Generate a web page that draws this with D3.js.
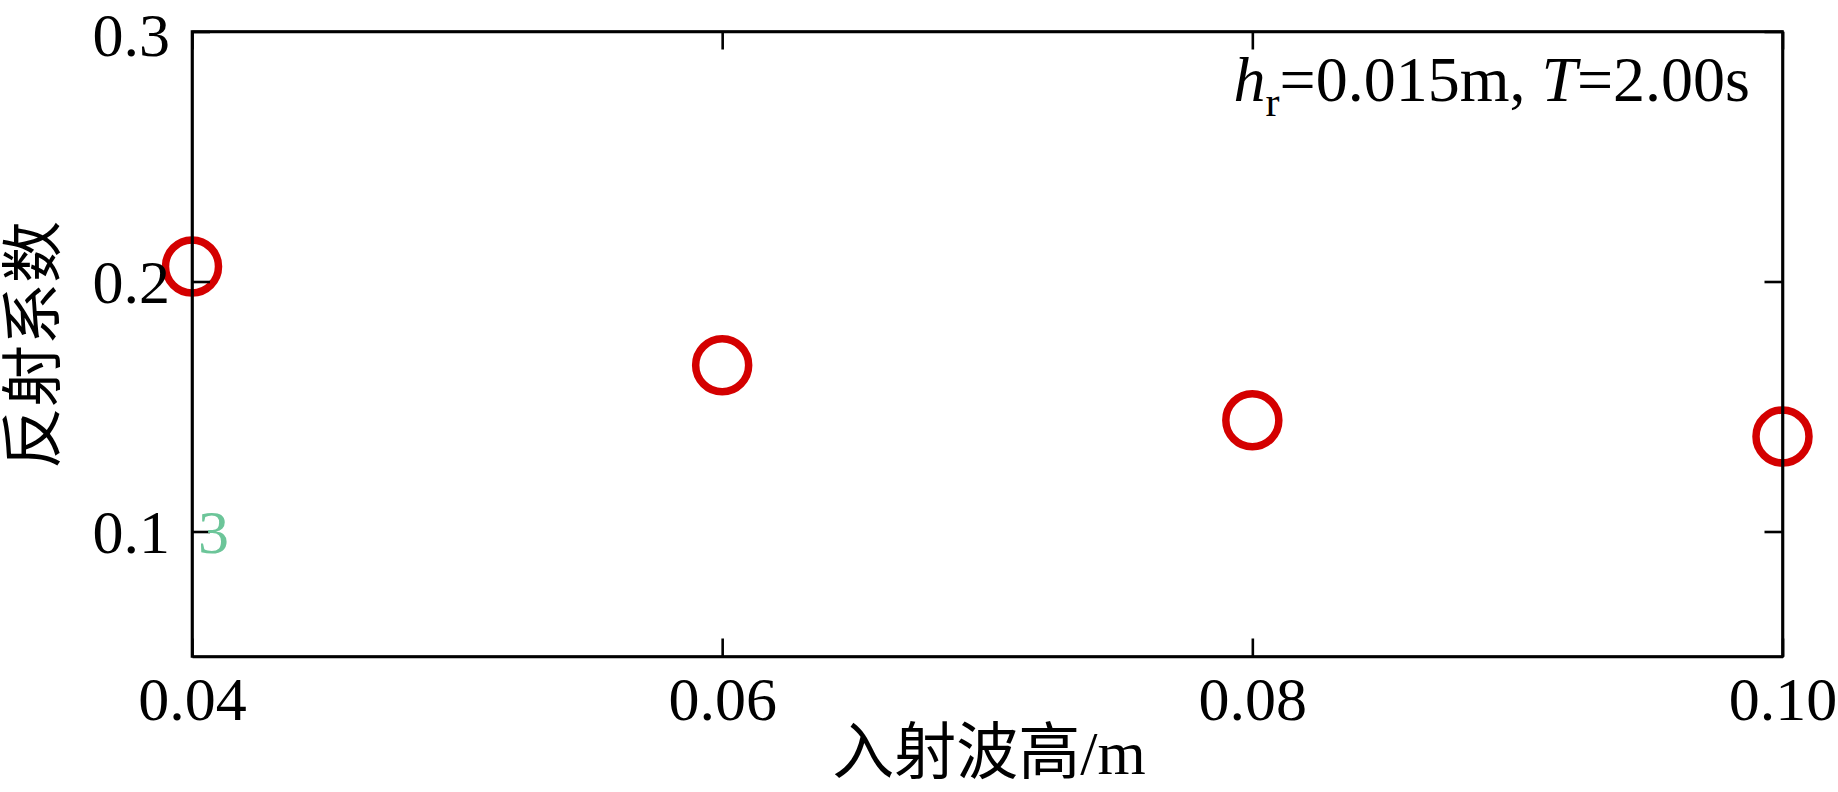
<!DOCTYPE html>
<html>
<head>
<meta charset="utf-8">
<script src="https://cdn.jsdelivr.net/npm/d3@7"></script>
<style>
  html, body { margin: 0; padding: 0; background: #fff; }
  svg { display: block; }
  text { font-family: "Liberation Serif", "Noto Sans CJK SC", serif; fill: #000; }
</style>
</head>
<body>
<svg id="chart" width="1838" height="792"></svg>
<script>
// ---- data ----
const waveHeights = [0.04, 0.06, 0.08, 0.10];          // 入射波高 (m)
const reflectionCoef = [0.206, 0.1665, 0.1445, 0.138]; // 反射系数
const xTickValues = [0.04, 0.06, 0.08, 0.10];
const xTickLabels = ["0.04", "0.06", "0.08", "0.10"];
const yTickValues = [0.1, 0.2, 0.3];
const yTickLabels = ["0.1", "0.2", "0.3"];
const xDomain = [0.04, 0.10];
const yDomain = [0.05, 0.3];
const xTitle = "入射波高/m";
const yTitle = "反射系数";

// ---- layout ----
const W = 1838, H = 792;
const plot = { left: 192, right: 1782.5, top: 31.5, bottom: 656.5 };
const svg = d3.select("#chart");

const x = d3.scaleLinear().domain(xDomain).range([plot.left, plot.right]);
const y = d3.scaleLinear().domain(yDomain).range([plot.bottom, plot.top]);

const fontSize = 62;
const tickLen = 18;
const axisStroke = 2.6;

// ---- markers (drawn first, axes on top) ----
const pts = waveHeights.map((v, i) => ({ x: v, y: reflectionCoef[i] }));
svg.append("g").selectAll("circle").data(pts).join("circle")
  .attr("cx", d => x(d.x))
  .attr("cy", d => y(d.y))
  .attr("r", 26.5)
  .attr("fill", "none")
  .attr("stroke", "#d40000")
  .attr("stroke-width", 7.5);

// ---- axes (inward ticks, full box) ----
const fmtX = (d, i) => xTickLabels[i];
const fmtY = (d, i) => yTickLabels[i];

const gBottom = svg.append("g").attr("transform", `translate(0,${plot.bottom})`)
  .call(d3.axisBottom(x).tickValues(xTickValues).tickFormat(fmtX).tickSizeInner(-tickLen).tickSizeOuter(0).tickPadding(19));
const gTop = svg.append("g").attr("transform", `translate(0,${plot.top})`)
  .call(d3.axisTop(x).tickValues(xTickValues).tickFormat("").tickSizeInner(-tickLen).tickSizeOuter(0));
const gLeft = svg.append("g").attr("transform", `translate(${plot.left},0)`)
  .call(d3.axisLeft(y).tickValues(yTickValues).tickFormat(fmtY).tickSizeInner(-tickLen).tickSizeOuter(0).tickPadding(22));
const gRight = svg.append("g").attr("transform", `translate(${plot.right},0)`)
  .call(d3.axisRight(y).tickValues(yTickValues).tickFormat("").tickSizeInner(-tickLen).tickSizeOuter(0));

[gBottom, gTop, gLeft, gRight].forEach(g => {
  g.select(".domain").attr("stroke", "#000").attr("stroke-width", axisStroke);
  g.selectAll(".tick line").attr("stroke", "#000").attr("stroke-width", axisStroke);
  g.selectAll(".tick text").attr("font-size", fontSize)
    .attr("font-family", "'Liberation Serif', serif").attr("fill", "#000");
});
gBottom.selectAll(".tick text").attr("dy", "0.71em");
// keep the top label's text box inside the picture
gLeft.selectAll(".tick text").attr("dy", d => d === 0.3 ? "0.39em" : "0.34em");

// box
svg.append("rect")
  .attr("x", plot.left).attr("y", plot.top)
  .attr("width", plot.right - plot.left).attr("height", plot.bottom - plot.top)
  .attr("fill", "none").attr("stroke", "#000").attr("stroke-width", axisStroke);

// ---- axis titles ----
svg.append("text")
  .attr("x", 989)
  .attr("y", 774)
  .attr("text-anchor", "middle")
  .attr("font-size", 62)
  .text(xTitle);

svg.append("text")
  .attr("transform", `translate(55,${345}) rotate(-90)`)
  .attr("text-anchor", "middle")
  .attr("font-size", 62)
  .text(yTitle);

// ---- annotation ----
const ann = svg.append("text")
  .attr("x", 1750).attr("y", 101)
  .attr("text-anchor", "end")
  .attr("font-size", 64);
ann.append("tspan").attr("font-style", "italic").text("h");
ann.append("tspan").attr("font-size", 42).attr("dy", 15).text("r");
ann.append("tspan").attr("dy", -15).text("=0.015m, ");
ann.append("tspan").attr("font-style", "italic").text("T");
ann.append("tspan").text("=2.00s");

// stray green label near the 0.1 tick
svg.append("text")
  .attr("x", 198).attr("y", y(0.1)).attr("dy", "0.34em")
  .attr("font-size", 62)
  .style("fill", "#6cc599")
  .text("3");
</script>
</body>
</html>
